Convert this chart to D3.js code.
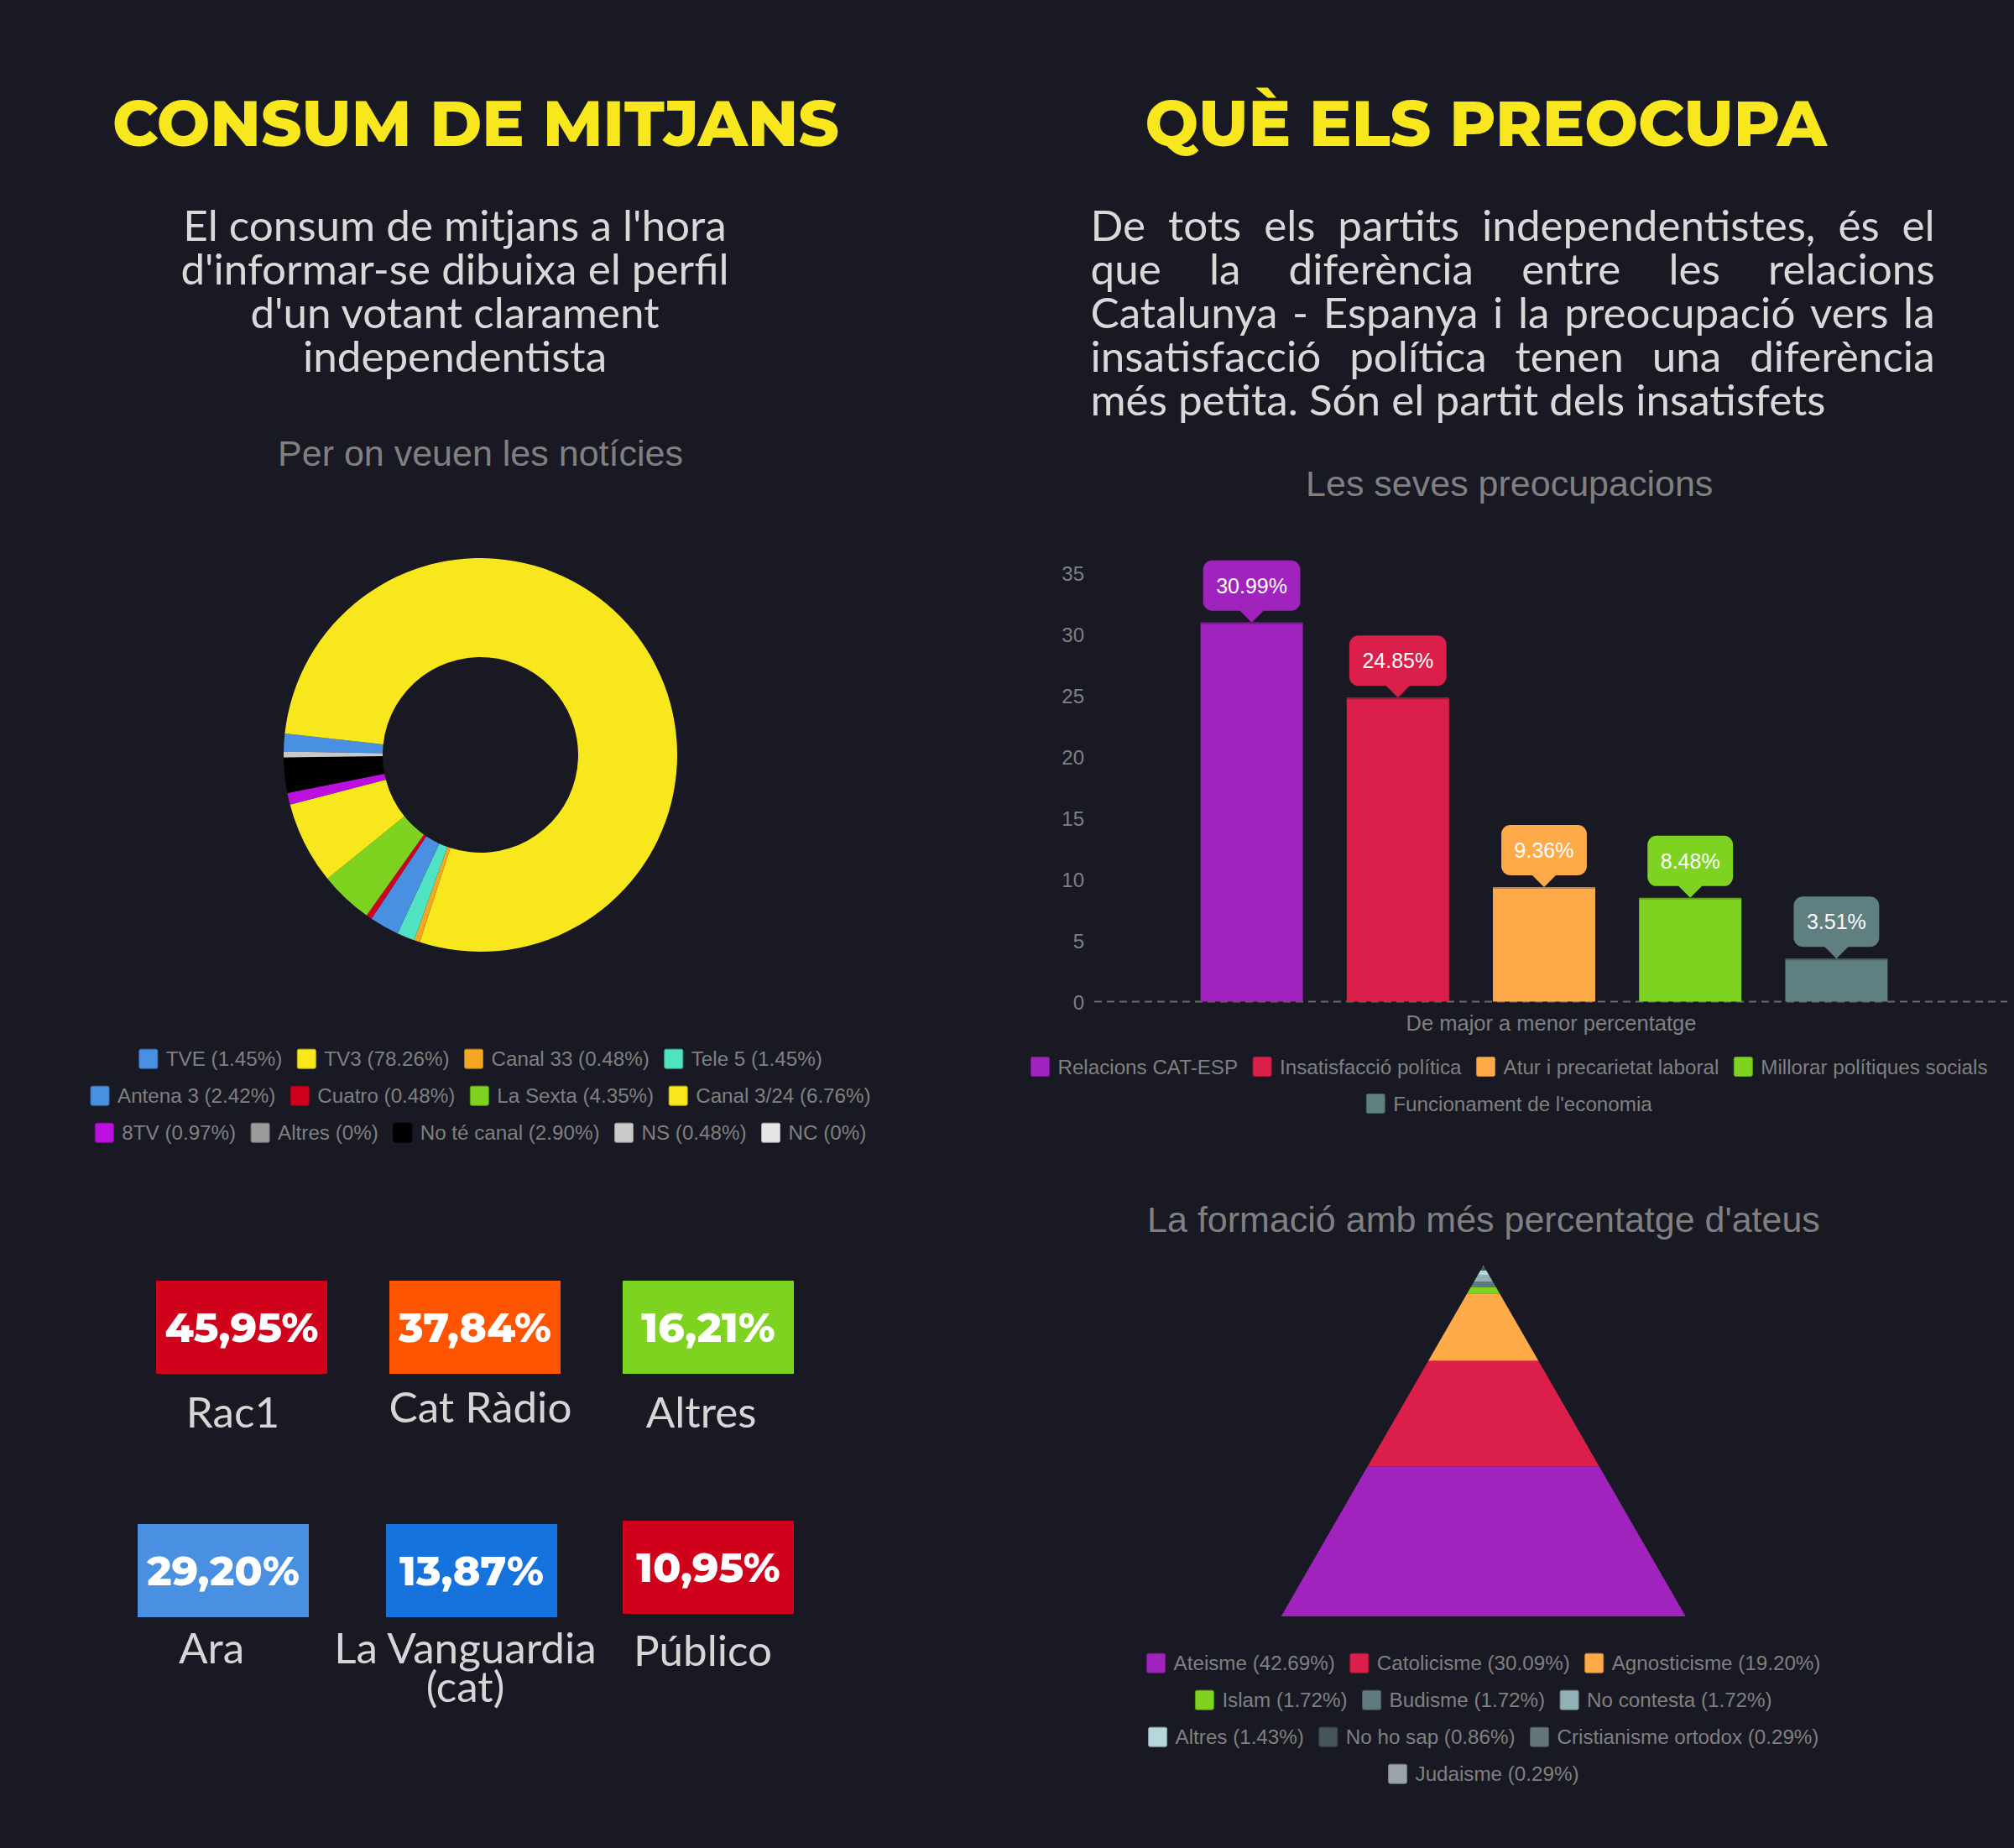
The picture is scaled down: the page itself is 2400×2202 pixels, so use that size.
<!DOCTYPE html>
<html><head><meta charset="utf-8">
<script src="https://cdn.jsdelivr.net/npm/d3@7"></script>
<style>html,body{margin:0;padding:0;background:#191923;} svg{display:block}</style>
</head><body>
<script>
// ---------- DATA ----------
const mediaNames = ["TVE","TV3","Canal 33","Tele 5","Antena 3","Cuatro","La Sexta","Canal 3/24","8TV","Altres","No té canal","NS","NC"];
const mediaValues = [1.45,78.26,0.48,1.45,2.42,0.48,4.35,6.76,0.97,0,2.90,0.48,0];
const mediaColors = ["#4a90e2","#f8e71c","#f5a623","#50e3c2","#4a90e2","#d0021b","#7ed321","#f8e71c","#bd10e0","#9b9b9b","#000000","#c9c9c9","#e6e6e6"];

const radioNames = ["Rac1","Cat Ràdio","Altres"];
const radioValues = [45.95,37.84,16.21];
const pressNames = ["Ara","La Vanguardia (cat)","Público"];
const pressValues = [29.20,13.87,10.95];
const cardColors = ["#d0021b","#ff5400","#7ed321","#4a90e2","#1672dc","#d0021b"];

const concernNames = ["Relacions CAT-ESP","Insatisfacció política","Atur i precarietat laboral","Millorar polítiques socials","Funcionament de l'economia"];
const concernValues = [30.99,24.85,9.36,8.48,3.51];
const concernColors = ["#a123bd","#dc1f4a","#ffaa49","#7ed321","#607f81"];
const yTicks = [0,5,10,15,20,25,30,35];
const xAxisTitle = "De major a menor percentatge";

const beliefNames = ["Ateisme","Catolicisme","Agnosticisme","Islam","Budisme","No contesta","Altres","No ho sap","Cristianisme ortodox","Judaisme"];
const beliefValues = [42.69,30.09,19.20,1.72,1.72,1.72,1.43,0.86,0.29,0.29];
const beliefColors = ["#a123bd","#dc1f4a","#ffaa49","#7ed321","#5e7a7f","#91b1b6","#b7d7dc","#45555a","#65767b","#9aa3a8"];

const leftTitle = "CONSUM DE MITJANS";
const rightTitle = "QUÈ ELS PREOCUPA";
const leftText = ["El consum de mitjans a l'hora","d'informar-se dibuixa el perfil","d'un votant clarament","independentista"];
const rightText = ["De tots els partits independentistes, és el","que la diferència entre les relacions","Catalunya - Espanya i la preocupació vers la","insatisfacció política tenen una diferència","més petita. Són el partit dels insatisfets"];
const donutTitle = "Per on veuen les notícies";
const barTitle = "Les seves preocupacions";
const pyramidTitle = "La formació amb més percentatge d'ateus";

// ---------- SETUP ----------
const W = 2400, H = 2202;
const BG = "#191923";
const HEAD = "Montserrat, Inter, 'Open Sans', sans-serif";
const LATO = "Lato, 'Open Sans', sans-serif";
const ARIAL = "'Liberation Sans', Arial, Helvetica, sans-serif";
const GREY = "#808080";
const pct = v => (v === 0 ? "0" : v.toFixed(2));

const svg = d3.select("body").append("svg").attr("width", W).attr("height", H);
svg.append("rect").attr("width", W).attr("height", H).attr("fill", BG);

function measure(g, txt) {
  const t = g.append("text").text(txt);
  const l = t.node().getComputedTextLength();
  t.remove();
  return l;
}

// ---------- HEADINGS ----------
[[leftTitle, 567, 866], [rightTitle, 1770.8, 812.5]].forEach(([t, cx, w]) => {
  svg.append("text").attr("x", cx).attr("y", 174).attr("text-anchor", "middle")
    .attr("font-family", HEAD).attr("font-weight", 800).attr("font-size", 76)
    .attr("fill", "#f8e71c").attr("textLength", w).attr("lengthAdjust", "spacingAndGlyphs").text(t);
});

// ---------- PARAGRAPHS ----------
const pL = svg.append("g").attr("font-family", LATO).attr("font-size", 51.2).attr("fill", "#d9d9d9");
leftText.forEach((line, i) => {
  pL.append("text").attr("x", 542).attr("y", 287 + i * 52).attr("text-anchor", "middle").text(line);
});
const pR = svg.append("g").attr("font-family", LATO).attr("font-size", 51.2).attr("fill", "#d9d9d9");
(function justify(lines, x0, x1, y0, lh) {
  lines.forEach((line, i) => {
    const y = y0 + i * lh;
    if (i === lines.length - 1) { pR.append("text").attr("x", x0).attr("y", y).text(line); return; }
    const words = line.split(" ");
    const ws = words.map(w => measure(pR, w));
    const gap = (x1 - x0 - d3.sum(ws)) / (words.length - 1);
    let x = x0;
    words.forEach((w, j) => { pR.append("text").attr("x", x).attr("y", y).text(w); x += ws[j] + gap; });
  });
})(rightText, 1299.5, 2305.6, 287, 52);

// ---------- CHART TITLES ----------
[[donutTitle, 572.5, 555], [barTitle, 1798.7, 591], [pyramidTitle, 1768, 1468]].forEach(([t, x, y]) => {
  svg.append("text").attr("x", x).attr("y", y).attr("text-anchor", "middle")
    .attr("font-family", ARIAL).attr("font-size", 43).attr("fill", GREY).text(t);
});

// ---------- LEGEND helper ----------
function legend(labels, colors, cx, y0, maxW) {
  const g = svg.append("g").attr("font-family", ARIAL).attr("font-size", 24.2).attr("fill", GREY);
  const SW = 22, SH = 23, PAD = 10, GAP = 18, ROW = 44;
  const items = labels.map((l, i) => ({ l, c: colors[i], w: SW + PAD + measure(g, l) }));
  const rows = [];
  let cur = [], cw = 0;
  items.forEach(it => {
    const add = cur.length ? GAP + it.w : it.w;
    if (cur.length && cw + add > maxW) { rows.push(cur); cur = [it]; cw = it.w; }
    else { cur.push(it); cw += add; }
  });
  if (cur.length) rows.push(cur);
  rows.forEach((row, r) => {
    const tot = d3.sum(row, d => d.w) + GAP * (row.length - 1);
    let x = cx - tot / 2;
    const y = y0 + r * ROW;
    row.forEach(it => {
      g.append("rect").attr("x", x).attr("y", y - SH / 2).attr("width", SW).attr("height", SH)
        .attr("rx", 2).attr("fill", it.c).attr("stroke", d3.color(it.c).darker(0.8)).attr("stroke-width", 1);
      g.append("text").attr("x", x + SW + PAD).attr("y", y).attr("dy", "0.36em").text(it.l);
      x += it.w + GAP;
    });
  });
}

// ---------- DONUT ----------
const a0 = -89 * Math.PI / 180;
const pie = d3.pie().sort(null).value(d => d).startAngle(a0).endAngle(a0 + 2 * Math.PI);
const arc = d3.arc().innerRadius(116.5).outerRadius(234.5);
const dg = svg.append("g").attr("transform", "translate(572.5,899.5)");
dg.selectAll("path").data(pie(mediaValues)).join("path")
  .attr("d", arc).attr("fill", (d, i) => mediaColors[i]);
legend(mediaNames.map((n, i) => `${n} (${pct(mediaValues[i])}%)`), mediaColors, 572.8, 1261.7, 1000);

// ---------- CARDS ----------
const cardNames = radioNames.concat(pressNames);
const cardValues = radioValues.concat(pressValues);
const cardBox = [[186,1526],[464,1526],[742,1526],[164,1816],[460,1816],[742,1812]];
const cardLabel = [[277.5,1701],[572.5,1695],[835.6,1701],[252,1982],[554.5,1982],[837.6,1985]];
const cg = svg.append("g");
cardValues.forEach((v, i) => {
  const [bx, by] = cardBox[i];
  cg.append("rect").attr("x", bx).attr("y", by).attr("width", 204).attr("height", 111).attr("fill", cardColors[i]);
  cg.append("text").attr("x", bx + 102).attr("y", by + 55.5 + 17).attr("text-anchor", "middle")
    .attr("font-family", HEAD).attr("font-weight", 800).attr("font-size", 49).attr("fill", "#ffffff")
    .text(v.toFixed(2).replace(".", ",") + "%");
  const lg = cg.append("g").attr("font-family", LATO).attr("font-size", 51.2).attr("fill", "#d6d6d6");
  const words = cardNames[i].split(" ");
  const lines = [];
  let line = "";
  words.forEach(w => {
    const test = line ? line + " " + w : w;
    if (line && measure(lg, test) > 330) { lines.push(line); line = w; } else line = test;
  });
  lines.push(line);
  const [lx, ly] = cardLabel[i];
  lines.forEach((l, k) => lg.append("text").attr("x", lx).attr("y", ly + k * 46).attr("text-anchor", "middle").text(l));
});

// ---------- BAR CHART ----------
const y = d3.scaleLinear().domain([0, 35]).range([1193.5, 683.2]);
const x = d3.scaleBand().domain(concernNames).range([1840 - 435.5, 1840 + 435.5]).paddingInner(0.3).paddingOuter(0.15);
const bg = svg.append("g");
const yAx = bg.append("g").attr("transform", "translate(1292,0)")
  .call(d3.axisLeft(y).tickValues(yTicks).tickSize(0).tickPadding(0));
yAx.select(".domain").remove();
yAx.selectAll("text").attr("font-family", ARIAL).attr("font-size", 24).attr("fill", GREY).attr("dy", "0.36em");
bg.append("line").attr("x1", 1304).attr("x2", 2392).attr("y1", y(0)).attr("y2", y(0))
  .attr("stroke", "#6a6a6a").attr("stroke-width", 2).attr("stroke-dasharray", "9,6");
concernValues.forEach((v, i) => {
  const c = concernColors[i];
  const bx = x(concernNames[i]), bw = x.bandwidth();
  bg.append("rect").attr("x", bx).attr("y", y(v)).attr("width", bw).attr("height", y(0) - y(v)).attr("fill", c);
  bg.append("line").attr("x1", bx).attr("x2", bx + bw).attr("y1", y(v) + 1).attr("y2", y(v) + 1)
    .attr("stroke", d3.color(c).darker(1.2)).attr("stroke-width", 2).attr("opacity", 0.7);
  const label = pct(v) + "%";
  const tg = bg.append("g").attr("font-family", ARIAL).attr("font-size", 25);
  const tw = measure(tg, label);
  const cx = bx + bw / 2, tip = y(v), bb = tip - 14, bh = 60, bwid = tw + 31;
  tg.append("rect").attr("x", cx - bwid / 2).attr("y", bb - bh).attr("width", bwid).attr("height", bh)
    .attr("rx", 11).attr("fill", c);
  tg.append("path").attr("d", `M${cx - 15},${bb - 1}L${cx + 15},${bb - 1}L${cx},${tip}Z`).attr("fill", c);
  tg.append("text").attr("x", cx).attr("y", bb - bh / 2 + 9).attr("text-anchor", "middle").attr("fill", "#ffffff").text(label);
});
bg.append("text").attr("x", 1848.5).attr("y", 1228).attr("text-anchor", "middle")
  .attr("font-family", ARIAL).attr("font-size", 25.5).attr("fill", GREY).text(xAxisTitle);
legend(concernNames, concernColors, 1798.5, 1271, 1250);

// ---------- PYRAMID ----------
const total = d3.sum(beliefValues);
const apexX = 1767.7, apexY = 1507.7, baseY = 1926, halfBase = 241;
const py = d3.scaleLinear().domain([0, total]).range([baseY, apexY]);
const hw = d3.scaleLinear().domain([apexY, baseY]).range([0, halfBase]);
const cum = d3.cumsum(beliefValues);
const pg = svg.append("g");
beliefValues.forEach((v, i) => {
  const yb = py(cum[i] - v), yt = py(cum[i]);
  const pts = [[apexX - hw(yb), yb], [apexX + hw(yb), yb], [apexX + hw(yt), yt], [apexX - hw(yt), yt]];
  pg.append("path").attr("d", "M" + pts.map(p => p.join(",")).join("L") + "Z").attr("fill", beliefColors[i]);
});
legend(beliefNames.map((n, i) => `${n} (${pct(beliefValues[i])}%)`), beliefColors, 1768, 1981.7, 855);
</script>
</body></html>
